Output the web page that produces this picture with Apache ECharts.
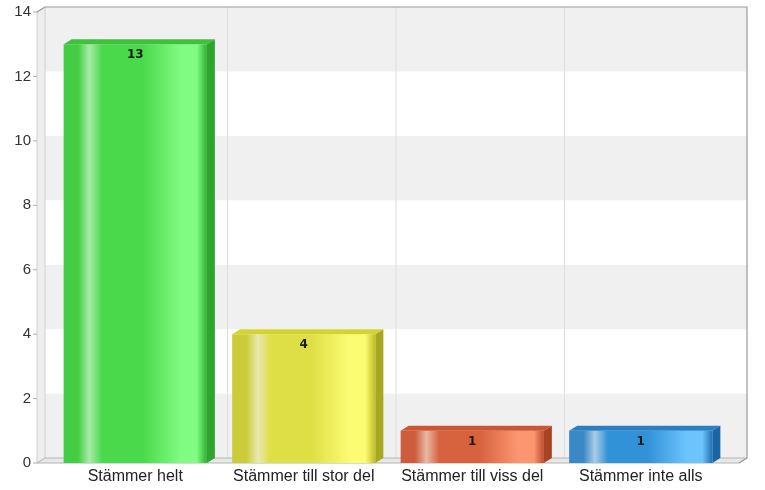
<!DOCTYPE html>
<html>
<head>
<meta charset="utf-8">
<script src="https://cdn.jsdelivr.net/npm/echarts@6/dist/echarts.min.js"></script>
<style>html,body{margin:0;padding:0;background:#fff}#c{width:765px;height:490px}</style>
</head>
<body>
<div id="c"></div>
<script>
const categories = ['Stämmer helt', 'Stämmer till stor del', 'Stämmer till viss del', 'Stämmer inte alls'];
const values = [13, 4, 1, 1];
const yTicks = [0, 2, 4, 6, 8, 10, 12, 14];
const barColors = [
  {left:'#44cc44', hi:'#a6eca6', mid:'#4ad94a', right:'#80fc80', edge:'#2fb02f', top:'#3ec23e', side:'#2ea52e'},
  {left:'#cccc3a', hi:'#e8e8b0', mid:'#dede45', right:'#fcfc72', edge:'#bcbc22', top:'#d4d430', side:'#a8a820'},
  {left:'#cc5c3c', hi:'#eab8a4', mid:'#d6623e', right:'#fc9670', edge:'#bc4c2c', top:'#cc5634', side:'#a84424'},
  {left:'#3a88c6', hi:'#aacbe6', mid:'#3292d8', right:'#6cc4fc', edge:'#2070b0', top:'#2a7ec4', side:'#1a66a4'}
];
const DX = 8, DY = 5, PAD = 14;

const chart = echarts.init(document.getElementById('c'), null, {renderer: 'canvas'});

function wallItem(params, api) {
  const cw = api.size([1, 0])[0];
  const fl = api.coord([0, 0])[0] - cw / 2 - PAD;
  const fr = api.coord([categories.length - 1, 0])[0] + cw / 2 + PAD;
  const yb = api.coord([0, yTicks[0]])[1];
  const yt = api.coord([0, yTicks[yTicks.length - 1]])[1];
  const children = [];
  for (let i = 0; i < yTicks.length - 1; i++) {
    const y0 = api.coord([0, yTicks[i]])[1] - DY;
    const y1 = api.coord([0, yTicks[i + 1]])[1] - DY;
    children.push({type: 'rect', shape: {x: fl + DX, y: y1, width: fr - fl, height: y0 - y1},
      style: {fill: i % 2 === 0 ? '#f0f0f0' : '#ffffff'}});
  }
  for (let i = 1; i < categories.length; i++) {
    const x = api.coord([i, 0])[0] - cw / 2 + DX;
    children.push({type: 'line', shape: {x1: x, y1: yt - DY, x2: x, y2: yb - DY},
      style: {stroke: '#dedede', lineWidth: 1}});
  }
  children.push({type: 'polygon', shape: {points: [[fl, yt], [fl + DX, yt - DY], [fl + DX, yb - DY], [fl, yb]]},
    style: {fill: '#eeeeee', stroke: '#d0d0d0', lineWidth: 1}});
  children.push({type: 'polygon', shape: {points: [[fl, yb], [fl + DX, yb - DY], [fr + DX, yb - DY], [fr, yb]]},
    style: {fill: '#e8e8e8', stroke: '#b4b4b4', lineWidth: 1}});
  children.push({type: 'polyline', shape: {points: [[fl, yt], [fl + DX, yt - DY], [fr + DX, yt - DY], [fr + DX, yb - DY], [fr, yb]]},
    style: {fill: null, stroke: '#9a9a9a', lineWidth: 1.2}});
  yTicks.forEach(function (t) {
    const y = api.coord([0, t])[1];
    children.push({type: 'line', shape: {x1: fl - 4, y1: y, x2: fl, y2: y}, style: {stroke: '#b0b0b0', lineWidth: 1}});
  });
  return {type: 'group', children: children};
}

function barItem(params, api) {
  const i = api.value(0), v = api.value(1);
  const p0 = api.coord([i, 0]);
  const p1 = api.coord([i, v]);
  const bw = api.size([1, 0])[0] * 0.85;
  const l = p0[0] - bw / 2, r = l + bw;
  const c = barColors[i];
  return {type: 'group', children: [
    {type: 'rect', shape: {x: l, y: p1[1], width: bw, height: p0[1] - p1[1]},
      style: {fill: new echarts.graphic.LinearGradient(0, 0, 1, 0, [
        {offset: 0, color: c.left}, {offset: 0.1, color: c.left}, {offset: 0.18, color: c.hi},
        {offset: 0.27, color: c.mid}, {offset: 0.55, color: c.mid}, {offset: 0.82, color: c.right},
        {offset: 0.93, color: c.right}, {offset: 1, color: c.edge}])}},
    {type: 'polygon', shape: {points: [[l, p1[1]], [l + DX, p1[1] - DY], [r + DX, p1[1] - DY], [r, p1[1]]]},
      style: {fill: c.top}},
    {type: 'polygon', shape: {points: [[r, p1[1]], [r + DX, p1[1] - DY], [r + DX, p0[1] - DY], [r, p0[1]]]},
      style: {fill: c.side}},
    {type: 'text', style: {text: String(v), x: p0[0], y: p1[1] + 11, align: 'center', verticalAlign: 'middle',
      font: 'bold 12px "DejaVu Sans", sans-serif', fill: '#1a1a1a'}}
  ]};
}

chart.setOption({
  animation: false,
  backgroundColor: '#ffffff',
  grid: {left: 51, right: 40, top: 12, bottom: 27, containLabel: false},
  xAxis: {
    type: 'category', data: categories,
    axisLine: {show: false}, axisTick: {show: false}, splitLine: {show: false},
    axisLabel: {fontSize: 16, color: '#222', margin: 6, fontFamily: '"Liberation Sans", Arial, sans-serif', interval: 0}
  },
  yAxis: {
    type: 'value', min: 0, max: 14, interval: 2, offset: 14,
    axisLine: {show: false}, axisTick: {show: false}, splitLine: {show: false}, splitArea: {show: false},
    axisLabel: {fontSize: 15, color: '#333', margin: 6, fontFamily: '"Liberation Sans", Arial, sans-serif'}
  },
  series: [
    {type: 'custom', name: 'wall', renderItem: wallItem, data: [[0]], z: 1, silent: true},
    {type: 'custom', name: 'bars', renderItem: barItem, data: values.map(function (v, i) { return [i, v]; }), z: 2}
  ]
});
</script>
</body>
</html>
